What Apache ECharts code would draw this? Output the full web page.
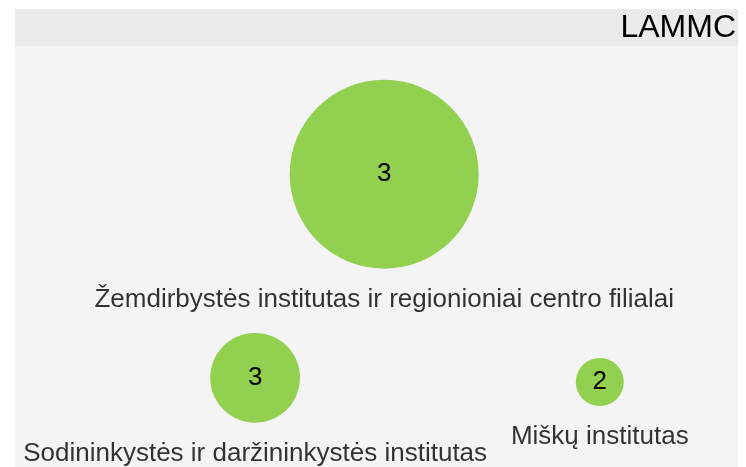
<!DOCTYPE html>
<html>
<head>
<meta charset="utf-8">
<script src="https://cdn.jsdelivr.net/npm/echarts@6/dist/echarts.min.js"></script>
<style>
  html, body { margin: 0; padding: 0; background: #fff; }
  #chart { width: 746px; height: 467px; }
</style>
</head>
<body>
<div id="chart"></div>
<script>
  // institutes of LAMMC
  var names = [
    'Žemdirbystės institutas ir regionioniai centro filialai',
    'Sodininkystės ir daržininkystės institutas',
    'Miškų institutas'
  ]
  var values = [3, 3, 2]
  // relative bubble area
  var bubbleArea = [15.5, 3.5, 1]
  // layout position on a 0..100 plane
  var posX = [51.5, 34.2, 80.4]
  var posY = [37.3, 80.9, 81.8]

  var font = '"Liberation Sans", Arial, sans-serif'

  var points = names.map(function (n, i) {
    return { name: n, value: [posX[i], posY[i], values[i], bubbleArea[i]] }
  })

  function size(v) {
    return 48 * Math.sqrt(v[3])
  }

  var chart = echarts.init(document.getElementById('chart'))
  chart.setOption({
    animation: false,
    title: {
      text: 'LAMMC',
      right: 5,
      top: 7,
      textStyle: { fontFamily: font, fontSize: 32, fontWeight: 'normal', color: '#000' }
    },
    graphic: [
      { type: 'rect', z: -10, shape: { x: 15, y: 9, width: 723, height: 460 }, style: { fill: '#f4f4f4' } },
      { type: 'rect', z: -9, shape: { x: 15, y: 9, width: 723, height: 37 }, style: { fill: '#ebebeb' } }
    ],
    grid: { left: 0, right: 0, top: 0, bottom: 0 },
    xAxis: { type: 'value', min: 0, max: 100, show: false },
    yAxis: { type: 'value', min: 0, max: 100, inverse: true, show: false },
    series: [
      {
        type: 'scatter',
        data: points,
        symbolSize: size,
        itemStyle: { color: '#92d050', opacity: 1 },
        label: {
          show: true,
          position: 'inside',
          formatter: function (p) { return p.value[2] },
          fontFamily: font,
          fontSize: 26,
          color: '#000'
        }
      },
      {
        type: 'scatter',
        data: points,
        symbolSize: size,
        silent: true,
        itemStyle: { color: 'transparent' },
        label: {
          show: true,
          position: 'bottom',
          distance: 18,
          formatter: '{b}',
          fontFamily: font,
          fontSize: 26,
          color: '#000'
        }
      }
    ]
  })
</script>
</body>
</html>
